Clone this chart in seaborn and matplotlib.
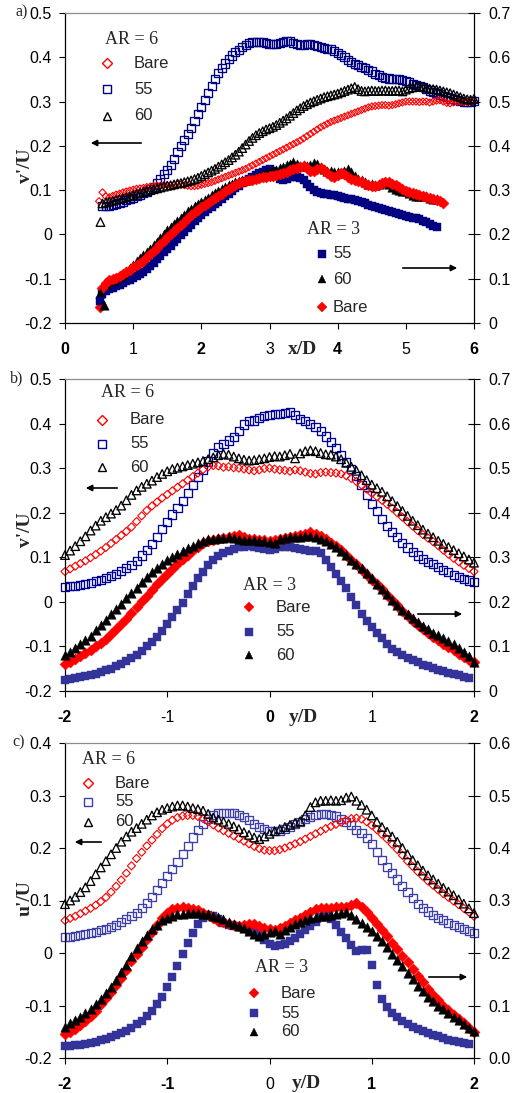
import numpy as np
import matplotlib
matplotlib.use("Agg")
import matplotlib.pyplot as plt
import seaborn as sns
from matplotlib.lines import Line2D
from matplotlib.ticker import FixedLocator, FuncFormatter

sns.set_style("ticks")
plt.rcParams['font.family'] = ['Liberation Sans', 'DejaVu Sans']
plt.rcParams['axes.unicode_minus'] = False
SERIF = ['Liberation Serif', 'DejaVu Serif']

# ---------------- DATA ----------------
# panel a: x/D grid 0.50 .. 6.00 step 0.05 (111 points); NaN where no sample
xa = np.round(np.arange(0.50, 6.0001, 0.05), 2)
# AR = 6 (left axis, v'/U)
a6_bare = [0.075, 0.095, 0.086, 0.084, 0.087, 0.090, 0.092, 0.095, 0.097, 0.099,
           0.101, 0.103, 0.104, 0.105, 0.107, 0.108, 0.109, 0.110, 0.110, 0.111,
           0.111, 0.111, 0.112, 0.112, 0.112, 0.111, 0.110, 0.109, 0.109, 0.110,
           0.112, 0.114, 0.116, 0.118, 0.121, 0.124, 0.127, 0.130, 0.133, 0.136,
           0.139, 0.142, 0.145, 0.148, 0.152, 0.156, 0.160, 0.164, 0.168, 0.172,
           0.176, 0.180, 0.184, 0.188, 0.192, 0.196, 0.200, 0.204, 0.208, 0.212,
           0.217, 0.222, 0.227, 0.232, 0.237, 0.242, 0.246, 0.250, 0.254, 0.257,
           0.260, 0.263, 0.266, 0.269, 0.272, 0.275, 0.278, 0.281, 0.284, 0.287,
           0.289, 0.290, 0.291, 0.292, 0.292, 0.291, 0.292, 0.294, 0.296, 0.298,
           0.300, 0.300, 0.300, 0.300, 0.299, 0.300, 0.300, 0.298, 0.300, 0.302,
           0.303, 0.300, 0.297, 0.296, 0.298, 0.300, 0.300, 0.299, 0.299, 0.300,
           0.301]
a6_55 = [None, 0.065, 0.064, 0.065, 0.066, 0.068, 0.071, 0.074, 0.077, 0.080,
         0.083, 0.086, 0.089, 0.093, 0.097, 0.102, 0.108, 0.115, 0.125, 0.136,
         0.146, 0.156, 0.170, 0.186, 0.200, 0.214, 0.226, 0.240, 0.256, 0.272,
         0.288, 0.304, 0.320, 0.336, 0.350, 0.364, 0.376, 0.386, 0.396, 0.404,
         0.411, 0.417, 0.423, 0.428, 0.432, 0.435, 0.435, 0.435, 0.434, 0.432,
         0.431, 0.430, 0.430, 0.433, 0.435, 0.437, 0.436, 0.433, 0.430, 0.428,
         0.428, 0.429, 0.429, 0.428, 0.425, 0.423, 0.420, 0.419, 0.418, 0.415,
         0.410, 0.405, 0.400, 0.394, 0.389, 0.385, 0.382, 0.379, 0.376, 0.372,
         0.368, 0.363, 0.359, 0.356, 0.354, 0.352, 0.351, 0.350, 0.350, 0.349,
         0.347, 0.343, 0.339, 0.337, 0.335, 0.332, 0.328, 0.325, 0.322, 0.319,
         0.316, 0.313, 0.310, 0.307, 0.305, 0.303, 0.301, 0.300, 0.300, 0.300,
         0.301]
a6_60 = [None, 0.070, 0.072, 0.074, 0.076, 0.078, 0.080, 0.082, 0.084, 0.086,
         0.089, 0.092, 0.094, 0.096, 0.098, 0.100, 0.102, 0.104, 0.106, 0.108,
         0.110, 0.111, 0.113, 0.115, 0.116, 0.118, 0.120, 0.122, 0.125, 0.128,
         0.132, 0.136, 0.140, 0.144, 0.148, 0.153, 0.158, 0.163, 0.168, 0.174,
         0.180, 0.187, 0.195, 0.203, 0.211, 0.218, 0.224, 0.229, 0.233, 0.237,
         0.240, 0.243, 0.247, 0.252, 0.257, 0.262, 0.268, 0.274, 0.280, 0.285,
         0.290, 0.294, 0.298, 0.301, 0.304, 0.307, 0.310, 0.312, 0.314, 0.316,
         0.318, 0.321, 0.324, 0.327, 0.330, 0.333, 0.328, 0.324, 0.323, 0.324,
         0.325, 0.324, 0.324, 0.325, 0.325, 0.324, 0.324, 0.325, 0.325, 0.323,
         0.327, 0.330, 0.332, 0.333, 0.334, 0.333, 0.331, 0.329, 0.328, 0.327,
         0.325, 0.323, 0.321, 0.319, 0.316, 0.313, 0.310, 0.307, 0.305, 0.304,
         0.306]
a6_60_first_x = [0.52]
a6_60_first_y = [0.028]
# AR = 3 (right axis)
a3_bare = [None, 0.080, 0.090, 0.096, 0.099, 0.102, 0.106, 0.110, 0.115, 0.120,
           0.126, 0.131, 0.136, 0.141, 0.148, 0.155, 0.162, 0.170, 0.178, 0.186,
           0.194, 0.201, 0.208, 0.215, 0.222, 0.229, 0.236, 0.243, 0.250, 0.256,
           0.262, 0.267, 0.272, 0.277, 0.282, 0.287, 0.292, 0.297, 0.302, 0.307,
           0.312, 0.316, 0.319, 0.321, 0.322, 0.323, 0.325, 0.327, 0.329, 0.330,
           0.331, 0.333, 0.335, 0.337, 0.339, 0.342, 0.345, 0.348, 0.351, 0.353,
           0.354, 0.350, 0.344, 0.343, 0.348, 0.350, 0.346, 0.338, 0.332, 0.330,
           0.334, 0.338, 0.336, 0.330, 0.325, 0.322, 0.320, 0.318, 0.315, 0.312,
           0.310, 0.310, 0.312, 0.316, 0.318, 0.318, 0.315, 0.311, 0.307, 0.303,
           0.299, 0.296, 0.293, 0.291, 0.289, 0.287, 0.284, 0.282, 0.280, 0.278,
           0.275, 0.272, None, None, None, None, None, None, None, None,
           None]
a3_60 = [None, None, 0.088, 0.094, 0.098, 0.102, 0.106, 0.111, 0.117, 0.124,
         0.132, 0.139, 0.146, 0.153, 0.160, 0.168, 0.176, 0.184, 0.193, 0.201,
         0.209, 0.216, 0.223, 0.230, 0.238, 0.245, 0.252, 0.258, 0.264, 0.269,
         0.273, 0.278, 0.283, 0.288, 0.293, 0.298, 0.303, 0.307, 0.311, 0.315,
         0.318, 0.320, 0.322, 0.323, 0.325, 0.327, 0.330, 0.333, 0.336, 0.339,
         0.342, 0.344, 0.346, 0.349, 0.352, 0.356, 0.360, 0.364, 0.358, 0.354,
         0.356, 0.355, 0.356, 0.362, 0.358, 0.352, 0.347, 0.344, 0.343, 0.341,
         0.340, 0.338, 0.344, 0.347, 0.340, 0.332, 0.326, 0.322, 0.318, 0.315,
         0.313, 0.312, 0.313, 0.316, 0.318, 0.314, 0.308, 0.303, 0.300, 0.299,
         0.297, 0.294, 0.290, 0.287, 0.286, 0.287, 0.286, 0.283, 0.281, 0.280,
         None, None, None, None, None, None, None, None, None, None,
         None]
a3_55 = [None, 0.066, 0.072, 0.077, 0.080, 0.083, 0.086, 0.090, 0.094, 0.098,
         0.102, 0.106, 0.111, 0.116, 0.122, 0.128, 0.136, 0.144, 0.152, 0.160,
         0.167, 0.174, 0.182, 0.190, 0.198, 0.206, 0.214, 0.222, 0.230, 0.238,
         0.245, 0.251, 0.257, 0.263, 0.268, 0.274, 0.280, 0.286, 0.292, 0.298,
         0.304, 0.310, 0.316, 0.321, 0.325, 0.330, 0.334, 0.338, 0.342, 0.346,
         0.348, 0.343, 0.334, 0.326, 0.324, 0.326, 0.329, 0.330, 0.330, 0.328,
         0.322, 0.314, 0.306, 0.300, 0.296, 0.293, 0.292, 0.291, 0.290, 0.288,
         0.286, 0.284, 0.282, 0.280, 0.279, 0.277, 0.275, 0.273, 0.270, 0.267,
         0.264, 0.262, 0.260, 0.258, 0.256, 0.253, 0.250, 0.248, 0.246, 0.244,
         0.242, 0.240, 0.238, 0.236, 0.234, 0.231, 0.227, 0.223, 0.219, 0.217,
         None, None, None, None, None, None, None, None, None, None,
         None]
a3_first_x = [0.52, 0.52, 0.52, 0.57]
a3_first_y = [0.036, 0.068, 0.050, 0.040]
a3_first_series = ['Bare', '60', '55', '60']

# panels b, c: y/D grid -2.00 .. 2.00 step 0.05 (81 points)
xb = np.round(np.arange(-2.0, 2.0001, 0.05), 2)
b6_bare = [0.068, 0.074, 0.080, 0.086, 0.092, 0.099, 0.106, 0.114, 0.122, 0.131,
           0.140, 0.149, 0.158, 0.168, 0.180, 0.193, 0.205, 0.215, 0.224, 0.233,
           0.241, 0.249, 0.257, 0.265, 0.273, 0.281, 0.289, 0.297, 0.303, 0.306,
           0.305, 0.302, 0.303, 0.301, 0.300, 0.298, 0.296, 0.294, 0.296, 0.299,
           0.300, 0.298, 0.296, 0.295, 0.293, 0.296, 0.294, 0.291, 0.288, 0.287,
           0.290, 0.291, 0.290, 0.289, 0.287, 0.283, 0.277, 0.270, 0.262, 0.253,
           0.244, 0.236, 0.228, 0.219, 0.210, 0.200, 0.190, 0.180, 0.170, 0.160,
           0.151, 0.143, 0.135, 0.126, 0.116, 0.107, 0.098, 0.090, 0.082, 0.075,
           0.068]
b6_55 = [0.034, 0.035, 0.036, 0.038, 0.040, 0.043, 0.046, 0.050, 0.054, 0.058,
         0.063, 0.069, 0.075, 0.082, 0.092, 0.104, 0.116, 0.130, 0.145, 0.163,
         0.180, 0.196, 0.211, 0.226, 0.244, 0.262, 0.280, 0.297, 0.315, 0.333,
         0.347, 0.355, 0.362, 0.370, 0.384, 0.398, 0.405, 0.407, 0.412, 0.416,
         0.419, 0.421, 0.422, 0.424, 0.425, 0.420, 0.411, 0.405, 0.400, 0.392,
         0.383, 0.371, 0.358, 0.345, 0.330, 0.314, 0.298, 0.282, 0.262, 0.240,
         0.220, 0.203, 0.186, 0.170, 0.157, 0.145, 0.133, 0.122, 0.112, 0.104,
         0.097, 0.090, 0.084, 0.078, 0.072, 0.066, 0.060, 0.055, 0.051, 0.048,
         0.045]
b6_60 = [0.105, 0.115, 0.125, 0.136, 0.147, 0.160, 0.171, 0.182, 0.190, 0.198,
         0.206, 0.216, 0.228, 0.240, 0.250, 0.258, 0.265, 0.272, 0.280, 0.287,
         0.293, 0.298, 0.301, 0.304, 0.307, 0.310, 0.313, 0.316, 0.320, 0.324,
         0.329, 0.332, 0.330, 0.326, 0.322, 0.319, 0.317, 0.318, 0.320, 0.322,
         0.325, 0.327, 0.326, 0.329, 0.332, 0.322, 0.333, 0.338, 0.340, 0.338,
         0.334, 0.331, 0.330, 0.326, 0.320, 0.312, 0.303, 0.294, 0.284, 0.273,
         0.263, 0.255, 0.247, 0.237, 0.226, 0.215, 0.204, 0.193, 0.182, 0.172,
         0.162, 0.153, 0.145, 0.137, 0.130, 0.123, 0.116, 0.109, 0.102, 0.095,
         0.088]
b3_bare = [0.060, 0.066, 0.072, 0.078, 0.085, 0.092, 0.100, 0.108, 0.117, 0.127,
           0.138, 0.150, 0.162, 0.175, 0.188, 0.201, 0.214, 0.227, 0.240, 0.252,
           0.263, 0.274, 0.285, 0.296, 0.306, 0.316, 0.324, 0.331, 0.336, 0.339,
           0.341, 0.343, 0.345, 0.348, 0.350, 0.346, 0.342, 0.340, 0.339, 0.338,
           0.337, 0.338, 0.340, 0.343, 0.346, 0.348, 0.350, 0.352, 0.356, 0.352,
           0.347, 0.340, 0.333, 0.325, 0.316, 0.306, 0.295, 0.284, 0.272, 0.261,
           0.250, 0.239, 0.228, 0.216, 0.204, 0.192, 0.180, 0.169, 0.158, 0.148,
           0.139, 0.130, 0.122, 0.114, 0.106, 0.098, 0.091, 0.084, 0.077, 0.070,
           0.064]
b3_55 = [0.025, 0.027, 0.029, 0.031, 0.033, 0.035, 0.038, 0.042, 0.046, 0.050,
         0.055, 0.061, 0.067, 0.074, 0.081, 0.090, 0.100, 0.110, 0.121, 0.135,
         0.150, 0.165, 0.181, 0.198, 0.217, 0.235, 0.253, 0.268, 0.282, 0.294,
         0.303, 0.310, 0.315, 0.319, 0.322, 0.324, 0.325, 0.324, 0.321, 0.318,
         0.316, 0.318, 0.322, 0.323, 0.322, 0.320, 0.318, 0.316, 0.315, 0.314,
         0.309, 0.295, 0.278, 0.262, 0.246, 0.230, 0.212, 0.193, 0.173, 0.157,
         0.144, 0.131, 0.118, 0.105, 0.095, 0.087, 0.080, 0.074, 0.069, 0.064,
         0.059, 0.055, 0.051, 0.047, 0.044, 0.041, 0.038, 0.035, 0.032, 0.030,
         None]
b3_60 = [0.080, 0.088, 0.096, 0.105, 0.114, 0.124, 0.136, 0.148, 0.160, 0.172,
         0.184, 0.196, 0.208, 0.220, 0.232, 0.244, 0.255, 0.266, 0.276, 0.285,
         0.293, 0.300, 0.307, 0.314, 0.320, 0.326, 0.332, 0.337, 0.340, 0.342,
         0.343, 0.344, 0.345, 0.344, 0.341, 0.339, 0.338, 0.338, 0.337, 0.336,
         0.334, 0.332, 0.340, 0.344, 0.345, 0.345, 0.346, 0.347, 0.348, 0.346,
         0.342, 0.336, 0.330, 0.323, 0.314, 0.305, 0.295, 0.285, 0.275, 0.265,
         0.253, 0.241, 0.229, 0.217, 0.205, 0.193, 0.182, 0.172, 0.163, 0.154,
         0.145, 0.138, 0.131, 0.125, 0.118, 0.112, 0.105, 0.097, 0.088, 0.078,
         0.066]
c6_bare = [0.062, 0.066, 0.070, 0.075, 0.080, 0.085, 0.091, 0.098, 0.106, 0.116,
           0.127, 0.139, 0.152, 0.166, 0.180, 0.192, 0.204, 0.215, 0.226, 0.237,
           0.246, 0.253, 0.258, 0.261, 0.262, 0.262, 0.260, 0.256, 0.250, 0.244,
           0.238, 0.233, 0.228, 0.223, 0.218, 0.213, 0.208, 0.203, 0.199, 0.196,
           0.195, 0.195, 0.197, 0.200, 0.204, 0.208, 0.212, 0.217, 0.222, 0.227,
           0.232, 0.237, 0.241, 0.245, 0.249, 0.253, 0.256, 0.257, 0.255, 0.250,
           0.243, 0.235, 0.226, 0.217, 0.207, 0.197, 0.186, 0.175, 0.165, 0.155,
           0.146, 0.137, 0.129, 0.121, 0.113, 0.106, 0.099, 0.092, 0.085, 0.078,
           0.070]
c6_55 = [0.030, 0.031, 0.032, 0.034, 0.036, 0.038, 0.040, 0.043, 0.046, 0.050,
         0.054, 0.059, 0.064, 0.070, 0.077, 0.086, 0.096, 0.107, 0.120, 0.133,
         0.147, 0.160, 0.174, 0.189, 0.204, 0.220, 0.234, 0.246, 0.255, 0.262,
         0.266, 0.267, 0.267, 0.266, 0.263, 0.259, 0.253, 0.246, 0.240, 0.236,
         0.233, 0.232, 0.233, 0.236, 0.240, 0.245, 0.250, 0.255, 0.259, 0.262,
         0.264, 0.264, 0.263, 0.260, 0.256, 0.250, 0.243, 0.235, 0.229, 0.219,
         0.207, 0.193, 0.178, 0.164, 0.152, 0.140, 0.128, 0.116, 0.104, 0.094,
         0.086, 0.079, 0.073, 0.067, 0.062, 0.058, 0.054, 0.050, 0.046, 0.042,
         0.038]
c6_60 = [0.093, 0.100, 0.107, 0.116, 0.125, 0.137, 0.150, 0.163, 0.175, 0.188,
         0.200, 0.212, 0.222, 0.231, 0.238, 0.246, 0.254, 0.262, 0.268, 0.273,
         0.276, 0.279, 0.281, 0.281, 0.279, 0.276, 0.274, 0.271, 0.265, 0.258,
         0.254, 0.250, 0.246, 0.241, 0.236, 0.230, 0.225, 0.220, 0.217, 0.222,
         0.227, 0.232, 0.236, 0.240, 0.244, 0.248, 0.251, 0.262, 0.278, 0.287,
         0.290, 0.290, 0.291, 0.290, 0.291, 0.296, 0.298, 0.290, 0.282, 0.273,
         0.262, 0.250, 0.240, 0.231, 0.222, 0.212, 0.200, 0.188, 0.177, 0.167,
         0.157, 0.148, 0.140, 0.132, 0.124, 0.117, 0.110, 0.102, 0.094, 0.085,
         0.076]
c3_bare = [0.045, 0.050, 0.056, 0.063, 0.071, 0.080, 0.090, 0.102, 0.114, 0.126,
           0.139, 0.153, 0.168, 0.184, 0.198, 0.212, 0.226, 0.240, 0.254, 0.266,
           0.276, 0.283, 0.286, 0.287, 0.286, 0.284, 0.281, 0.277, 0.272, 0.266,
           0.261, 0.259, 0.256, 0.253, 0.251, 0.253, 0.256, 0.255, 0.252, 0.248,
           0.245, 0.244, 0.247, 0.252, 0.257, 0.262, 0.267, 0.273, 0.279, 0.283,
           0.285, 0.286, 0.286, 0.287, 0.288, 0.288, 0.291, 0.296, 0.288, 0.278,
           0.267, 0.256, 0.244, 0.232, 0.220, 0.208, 0.195, 0.182, 0.170, 0.157,
           0.144, 0.131, 0.120, 0.110, 0.100, 0.091, 0.082, 0.074, 0.066, 0.058,
           0.050]
c3_55 = [0.022, 0.023, 0.024, 0.025, 0.027, 0.029, 0.031, 0.034, 0.037, 0.040,
         0.043, 0.047, 0.052, 0.058, 0.064, 0.071, 0.080, 0.090, 0.102, 0.117,
         0.135, 0.155, 0.176, 0.198, 0.219, 0.238, 0.255, 0.266, 0.272, 0.270,
         0.264, 0.258, 0.254, 0.251, 0.249, 0.247, 0.244, 0.240, 0.234, 0.225,
         0.218, 0.214, 0.215, 0.218, 0.223, 0.229, 0.236, 0.244, 0.252, 0.260,
         0.268, 0.272, 0.265, 0.254, 0.240, 0.228, 0.215, 0.204, 0.205, 0.206,
         0.177, 0.140, 0.112, 0.097, 0.086, 0.078, 0.071, 0.065, 0.060, 0.055,
         0.051, 0.047, 0.044, 0.041, 0.038, 0.035, 0.033, 0.031, 0.029, 0.027,
         None]
c3_60 = [0.060, 0.066, 0.072, 0.079, 0.086, 0.094, 0.102, 0.112, 0.123, 0.135,
         0.148, 0.163, 0.178, 0.195, 0.210, 0.222, 0.234, 0.245, 0.254, 0.262,
         0.267, 0.271, 0.274, 0.275, 0.276, 0.276, 0.276, 0.275, 0.274, 0.271,
         0.268, 0.264, 0.260, 0.256, 0.252, 0.247, 0.242, 0.237, 0.233, 0.236,
         0.240, 0.242, 0.237, 0.244, 0.250, 0.255, 0.259, 0.263, 0.266, 0.268,
         0.270, 0.271, 0.272, 0.274, 0.276, 0.278, 0.272, 0.265, 0.257, 0.249,
         0.241, 0.232, 0.222, 0.211, 0.199, 0.187, 0.175, 0.162, 0.150, 0.138,
         0.127, 0.117, 0.108, 0.100, 0.093, 0.086, 0.079, 0.072, 0.065, 0.058,
         0.051]

xticks_a = [0, 1, 2, 3, 4, 5, 6]
xticks_bc = [-2, -1, 0, 1, 2]
series_labels = ['Bare', '55', '60']

# ---------------- FIGURE ----------------
W, H = 520, 1093
fig = plt.figure(figsize=(W / 100, H / 100), dpi=100)

RED = '#FF0000'
NAVY = '#000080'
BLK = '#000000'
SLATE = '#333399'

# marker areas (pt^2)
S_OSQ, S_OTRI, S_ODIA = 34, 38, 17
S_FSQ, S_FTRI, S_FDIA = 40, 46, 32


def fx(px):
    return px / W


def fy(py):
    return 1 - py / H


def pts(ax, x, y, marker, color, s, filled, lw=0.95):
    x = np.asarray(x, dtype=float)
    y = np.asarray(y, dtype=float)
    if filled:
        sns.scatterplot(x=x, y=y, ax=ax, marker=marker, s=s, color=color,
                        edgecolor=color, linewidth=0.3, clip_on=False)
    else:
        sns.scatterplot(x=x, y=y, ax=ax, marker=marker, s=s, color=color,
                        facecolor='none', edgecolor=color, linewidth=lw,
                        clip_on=False)


def fmt_left(v, pos):
    return '0' if abs(v) < 1e-9 else f'{v:.1f}'


def setup_axes(top, bottom, xlim, xticks, bold_ticks, ylim, ylim2, rfmt):
    ax = fig.add_axes([fx(65), fy(bottom), fx(474) - fx(65), (bottom - top) / H])
    ax2 = ax.twinx()
    ax.set_xlim(*xlim)
    ax.set_ylim(*ylim)
    ax2.set_ylim(*ylim2)
    for s in ['left', 'bottom']:
        ax.spines[s].set_color('black')
        ax.spines[s].set_linewidth(0.9)
    ax.spines['top'].set_visible(True)
    ax.spines['top'].set_color('#8c8c8c')
    ax.spines['top'].set_linewidth(0.9)
    ax.spines['right'].set_visible(False)
    for s in ['left', 'bottom', 'top']:
        ax2.spines[s].set_visible(False)
    ax2.spines['right'].set_visible(True)
    ax2.spines['right'].set_color('black')
    ax2.spines['right'].set_linewidth(0.9)
    ax.yaxis.set_major_locator(FixedLocator(np.round(np.arange(ylim[0], ylim[1] + 1e-6, 0.1), 2)))
    ax2.yaxis.set_major_locator(FixedLocator(np.round(np.arange(ylim2[0], ylim2[1] + 1e-6, 0.1), 2)))
    ax.yaxis.set_major_formatter(FuncFormatter(fmt_left))
    ax2.yaxis.set_major_formatter(FuncFormatter(rfmt))
    ax.set_xticks(xticks)
    ax.set_xticklabels([str(t) for t in xticks])
    for lab, b in zip(ax.get_xticklabels(), bold_ticks):
        lab.set_fontweight('bold' if b else 'normal')
    ax.tick_params(axis='y', direction='out', length=4, width=0.8, pad=5.5,
                   labelsize=11.5, colors='black')
    ax.tick_params(axis='x', direction='out', length=4, width=0.8, pad=10,
                   labelsize=11.5, colors='black')
    ax2.tick_params(axis='y', direction='inout', length=8, width=0.8, pad=6,
                    labelsize=11.5, colors='black')
    ax.set_xlabel('')
    ax.set_ylabel('')
    ax2.set_ylabel('')
    return ax, ax2


def legend_block(title, tx, ty, entries, mx, lx):
    fig.text(fx(tx), fy(ty), title, family=SERIF, fontsize=13, ha='left', va='center')
    for label, marker, color, filled, ms, y in entries:
        fig.add_artist(Line2D([fx(mx)], [fy(y)], transform=fig.transFigure,
                              marker=marker, ms=ms, ls='none',
                              mfc=color if filled else 'none', mec=color,
                              mew=0.3 if filled else 1.0))
        fig.text(fx(lx), fy(y), label, fontsize=12, ha='left', va='center')


def arrow(x0, x1, y):
    fig.add_artist(matplotlib.patches.FancyArrowPatch(
        (fx(x0), fy(y)), (fx(x1), fy(y)), transform=fig.transFigure,
        arrowstyle='-|>', mutation_scale=9, color='black', lw=1.2))


# ---------- panel a ----------
axa, axa2 = setup_axes(13, 323, (0, 6), xticks_a,
                       [True, False, True, False, True, False, True],
                       (-0.2, 0.5), (0.0, 0.7), fmt_left)
pts(axa, xa, a6_55, 's', NAVY, S_OSQ, False)
pts(axa, xa, a6_bare, 'D', RED, 13, False, lw=0.8)
pts(axa, xa, a6_60, '^', BLK, S_OTRI, False)
pts(axa, a6_60_first_x, a6_60_first_y, '^', BLK, S_OTRI, False)
pts(axa2, xa, a3_55, 's', NAVY, S_FSQ, True)
pts(axa2, xa, a3_60, '^', BLK, S_FTRI, True)
pts(axa2, xa, a3_bare, 'D', RED, S_FDIA, True)
for sx, sy, sname in zip(a3_first_x, a3_first_y, a3_first_series):
    mk = {'Bare': 'D', '55': 's', '60': '^'}[sname]
    col = {'Bare': RED, '55': NAVY, '60': BLK}[sname]
    sz = {'Bare': S_FDIA, '55': S_FSQ, '60': S_FTRI}[sname]
    pts(axa2, [sx], [sy], mk, col, sz, True)

fig.text(fx(15), fy(12), 'a)', family=SERIF, fontsize=11.5, ha='left', va='center')
fig.text(fx(25), fy(166), "v'/U", family=SERIF, fontsize=14, fontweight='bold',
         rotation=90, ha='center', va='center')
fig.text(fx(303), fy(349), 'x/D', family=SERIF, fontsize=14, fontweight='bold',
         ha='center', va='center')
legend_block('AR = 6', 105, 40,
             [('Bare', 'D', RED, False, 4.6, 63),
              ('55', 's', NAVY, False, 5.5, 89),
              ('60', '^', BLK, False, 5.5, 116)], 107, 134)
legend_block('AR = 3', 307, 230,
             [('55', 's', NAVY, True, 5.5, 254),
              ('60', '^', BLK, True, 6.0, 279),
              ('Bare', 'D', RED, True, 5.0, 307)], 322, 333)
arrow(144, 88, 143)
arrow(400, 460, 268)

# ---------- panel b ----------
axb, axb2 = setup_axes(379, 691, (-2, 2), xticks_bc,
                       [True, False, True, False, True],
                       (-0.2, 0.5), (0.0, 0.7), fmt_left)
pts(axb, xb, b6_55, 's', '#000099', S_OSQ, False)
pts(axb, xb, b6_bare, 'D', RED, S_ODIA, False, lw=0.8)
pts(axb, xb, b6_60, '^', BLK, S_OTRI, False)
pts(axb2, xb, b3_55, 's', SLATE, S_FSQ, True)
pts(axb2, xb, b3_bare, 'D', RED, S_FDIA, True)
pts(axb2, xb, b3_60, '^', BLK, S_FTRI, True)

fig.text(fx(10), fy(378), 'b)', family=SERIF, fontsize=11.5, ha='left', va='center')
fig.text(fx(25), fy(530), "v'/U", family=SERIF, fontsize=14, fontweight='bold',
         rotation=90, ha='center', va='center')
fig.text(fx(303), fy(718), 'y/D', family=SERIF, fontsize=14, fontweight='bold',
         ha='center', va='center')
legend_block('AR = 6', 101, 392,
             [('Bare', 'D', RED, False, 4.6, 420),
              ('55', 's', '#000099', False, 5.5, 444),
              ('60', '^', BLK, False, 5.5, 467)], 102, 130)
legend_block('AR = 3', 243, 585,
             [('Bare', 'D', RED, True, 5.0, 607),
              ('55', 's', SLATE, True, 5.5, 632),
              ('60', '^', BLK, True, 6.0, 655)], 249, 276)
arrow(120, 83, 488)
arrow(415, 465, 614)

# ---------- panel c ----------
axc, axc2 = setup_axes(743, 1058, (-2, 2), xticks_bc,
                       [True, True, False, True, True],
                       (-0.2, 0.4), (0.0, 0.6), lambda v, p: f'{v:.1f}')
pts(axc, xb, c6_55, 's', '#3F3FAA', S_OSQ, False)
pts(axc, xb, c6_bare, 'D', RED, S_ODIA, False, lw=0.8)
pts(axc, xb, c6_60, '^', BLK, S_OTRI, False)
pts(axc2, xb, c3_55, 's', SLATE, S_FSQ, True)
pts(axc2, xb, c3_bare, 'D', RED, S_FDIA, True)
pts(axc2, xb, c3_60, '^', BLK, S_FTRI, True)

fig.text(fx(12), fy(742), 'c)', family=SERIF, fontsize=11.5, ha='left', va='center')
fig.text(fx(25), fy(898), "u'/U", family=SERIF, fontsize=14, fontweight='bold',
         rotation=90, ha='center', va='center')
fig.text(fx(306), fy(1084), 'y/D', family=SERIF, fontsize=14, fontweight='bold',
         ha='center', va='center')
legend_block('AR = 6', 82, 760,
             [('Bare', 'D', RED, False, 4.6, 783),
              ('55', 's', '#3F3FAA', False, 5.5, 802),
              ('60', '^', BLK, False, 5.5, 822)], 88, 115)
legend_block('AR = 3', 255, 968,
             [('Bare', 'D', RED, True, 5.0, 993),
              ('55', 's', SLATE, True, 5.5, 1013),
              ('60', '^', BLK, True, 6.0, 1032)], 254, 281)
arrow(104, 72, 842)
arrow(426, 470, 977)

fig.savefig('out.png', dpi=100)
